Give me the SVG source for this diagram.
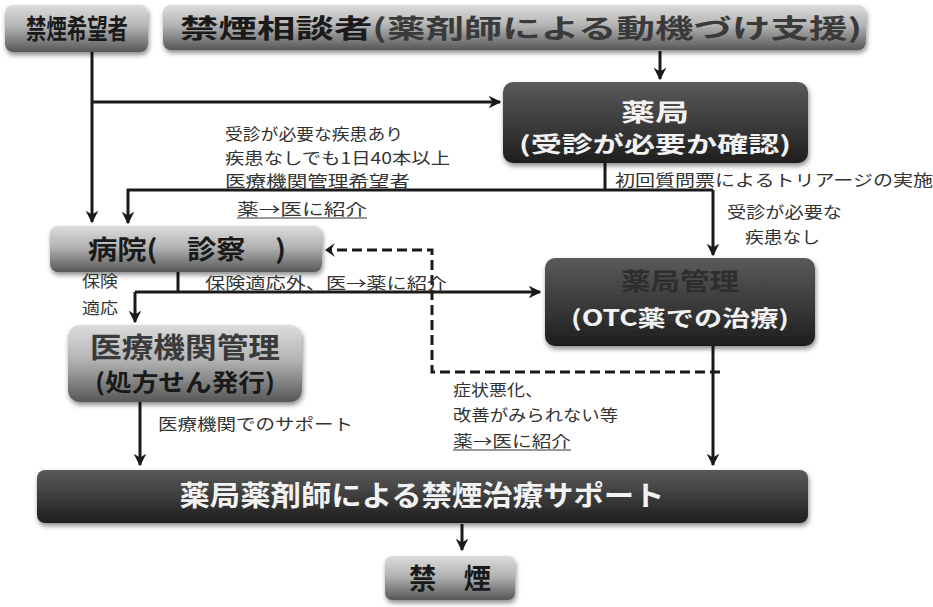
<svg xmlns="http://www.w3.org/2000/svg" width="933" height="607" viewBox="0 0 933 607">
<defs>
<linearGradient id="gLight" x1="0" y1="0" x2="0" y2="1">
<stop offset="0" stop-color="#dcdcdc"/>
<stop offset="0.45" stop-color="#b4b4b4"/>
<stop offset="1" stop-color="#575757"/>
</linearGradient>
<linearGradient id="gDark" x1="0" y1="0" x2="0" y2="1">
<stop offset="0" stop-color="#5a5a5a"/>
<stop offset="0.5" stop-color="#3c3c3c"/>
<stop offset="1" stop-color="#1e1e1e"/>
</linearGradient>
<filter id="sh" x="-10%" y="-20%" width="120%" height="150%">
<feDropShadow dx="1" dy="3" stdDeviation="2.5" flood-color="#000" flood-opacity="0.45"/>
</filter>
<marker id="ah" viewBox="0 0 10 10" refX="9" refY="5" markerWidth="4.2" markerHeight="4.2" orient="auto" markerUnits="strokeWidth">
<path d="M0,0 L10,5 L0,10 L3,5 z" fill="#1a1a1a"/>
</marker>
</defs>
<style>
.light{fill:url(#gLight);filter:url(#sh)}
.dark{fill:url(#gDark);filter:url(#sh)}
.ht{font-family:"Noto Sans CJK JP","Noto Sans",sans-serif;font-weight:bold;fill:#1a1a1a}
.wt{font-family:"Noto Sans CJK JP","Noto Sans",sans-serif;font-weight:bold;fill:#f2f2f2}
.lb{font-family:"Noto Sans CJK JP","Noto Sans",sans-serif;font-size:16px;fill:#333}
.ln{fill:none;stroke:#1a1a1a;stroke-width:3}
.ar{fill:none;stroke:#1a1a1a;stroke-width:3;marker-end:url(#ah)}
.ds{fill:none;stroke:#1a1a1a;stroke-width:3;stroke-dasharray:10,5}
.ul{stroke:#333;stroke-width:1.2}
</style>

<g id="connectors">
<path class="ar" d="M92,52 V222"/>
<path class="ar" d="M92,102 H500"/>
<path class="ar" d="M660,51 V79"/>
<path class="ln" d="M605,163 V190"/>
<path class="ar" d="M713,190 H128 V223"/>
<path class="ar" d="M713,190 V255"/>
<path class="ln" d="M178,272 V292"/>
<path class="ar" d="M135,292 H540"/>
<path class="ar" d="M135,292 V322"/>
<path class="ds" d="M720,372 H432 V250 H330"/>
<path d="M335,243 L325,250 L335,257 L331,250 z" fill="#1a1a1a"/>
<path class="ar" d="M140,402 V465"/>
<path class="ar" d="M713,346 V465"/>
<path class="ar" d="M462,524 V550"/>
</g>

<g id="n1">
<rect class="light" x="5" y="5" width="143" height="47" rx="8"/>
<text class="ht" x="77" y="39" font-size="27" text-anchor="middle" textLength="102" lengthAdjust="spacingAndGlyphs">禁煙希望者</text>
</g>
<g id="n2">
<rect class="light" x="163" y="5" width="703" height="45" rx="8"/>
<text class="ht" x="180" y="38" font-size="26" textLength="682" lengthAdjust="spacingAndGlyphs">禁煙相談者<tspan fill="#3a3a3a">(薬剤師による動機づけ支援)</tspan></text>
</g>
<g id="n3">
<rect class="dark" x="503" y="82" width="305" height="81" rx="10"/>
<text class="wt" x="655" y="121" font-size="24" text-anchor="middle" textLength="68" lengthAdjust="spacingAndGlyphs">薬局</text>
<text class="wt" x="655" y="152" font-size="22" text-anchor="middle" textLength="272" lengthAdjust="spacingAndGlyphs">(受診が必要か確認)</text>
</g>
<g id="n4">
<rect class="light" x="50" y="226" width="272" height="46" rx="8"/>
<text class="ht" x="88" y="259" font-size="26" textLength="198" lengthAdjust="spacingAndGlyphs">病院(　診察　)</text>
</g>
<g id="n5">
<rect class="dark" x="545" y="258" width="270" height="88" rx="10"/>
<text class="ht" x="680" y="290" font-size="24" text-anchor="middle" style="fill:#2e2e2e" textLength="118" lengthAdjust="spacingAndGlyphs">薬局管理</text>
<text class="wt" x="680" y="326" font-size="22" text-anchor="middle" textLength="218" lengthAdjust="spacingAndGlyphs">(OTC薬での治療)</text>
</g>
<g id="n6">
<rect class="light" x="68" y="325" width="234" height="77" rx="12"/>
<text class="ht" x="185" y="358" font-size="28" text-anchor="middle" style="fill:#3a3a3a" textLength="190" lengthAdjust="spacingAndGlyphs">医療機関管理</text>
<text class="ht" x="185" y="391" font-size="24" text-anchor="middle" textLength="180" lengthAdjust="spacingAndGlyphs">(処方せん発行)</text>
</g>
<g id="n7">
<rect class="dark" x="37" y="470" width="771" height="53" rx="8"/>
<text class="wt" x="422" y="506" font-size="28" text-anchor="middle" textLength="485" lengthAdjust="spacingAndGlyphs">薬局薬剤師による禁煙治療サポート</text>
</g>
<g id="n8">
<rect class="light" x="385" y="556" width="130" height="44" rx="7"/>
<text class="ht" x="450" y="589" font-size="28" text-anchor="middle" textLength="82" lengthAdjust="spacingAndGlyphs">禁　煙</text>
</g>

<g id="labels">
<text class="lb" x="225" y="140" textLength="178" lengthAdjust="spacingAndGlyphs">受診が必要な疾患あり</text>
<text class="lb" x="225" y="164" textLength="225" lengthAdjust="spacingAndGlyphs">疾患なしでも1日40本以上</text>
<text class="lb" x="225" y="187" textLength="185" lengthAdjust="spacingAndGlyphs">医療機関管理希望者</text>
<text class="lb" x="237" y="215" textLength="130" lengthAdjust="spacingAndGlyphs">薬→医に紹介</text>
<line class="ul" x1="237" y1="218" x2="367" y2="218"/>
<text class="lb" x="615" y="186" textLength="318" lengthAdjust="spacingAndGlyphs">初回質問票によるトリアージの実施</text>
<text class="lb" x="727" y="218" textLength="115" lengthAdjust="spacingAndGlyphs">受診が必要な</text>
<text class="lb" x="745" y="243" textLength="75" lengthAdjust="spacingAndGlyphs">疾患なし</text>
<text class="lb" x="82" y="287" textLength="36" lengthAdjust="spacingAndGlyphs">保険</text>
<text class="lb" x="82" y="314" textLength="36" lengthAdjust="spacingAndGlyphs">適応</text>
<text class="lb" x="205" y="289" textLength="242" lengthAdjust="spacingAndGlyphs">保険適応外、医→薬に紹介</text>
<text class="lb" x="453" y="396" textLength="90" lengthAdjust="spacingAndGlyphs">症状悪化、</text>
<text class="lb" x="453" y="421" textLength="165" lengthAdjust="spacingAndGlyphs">改善がみられない等</text>
<text class="lb" x="453" y="447" textLength="118" lengthAdjust="spacingAndGlyphs">薬→医に紹介</text>
<line class="ul" x1="453" y1="450" x2="571" y2="450"/>
<text class="lb" x="158" y="430" textLength="195" lengthAdjust="spacingAndGlyphs">医療機関でのサポート</text>
</g>
</svg>
